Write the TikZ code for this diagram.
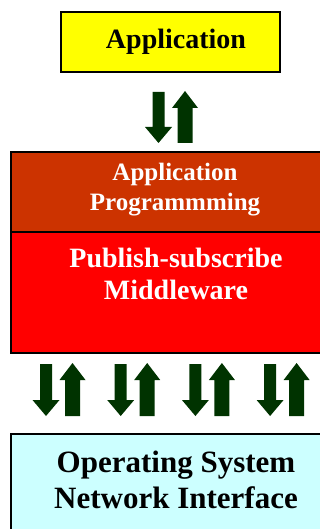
\documentclass[tikz,border=0pt]{standalone}
\usepackage{fontspec}
\setmainfont{Liberation Serif}
\newfontfamily\tnrb{Liberation Serif Bold}
\definecolor{appyellow}{HTML}{FFFF00}
\definecolor{apibrown}{HTML}{CC3300}
\definecolor{mwred}{HTML}{FF0000}
\definecolor{oscyan}{HTML}{CCFFFF}
\definecolor{arrowgreen}{HTML}{003300}
\tikzset{
  layerbox/.style={draw=black, line width=1.3pt, inner sep=0pt, outer sep=0pt},
  layertext/.style={align=center, inner sep=0pt},
}
\newcommand{\updownpair}[3]{% center x of down arrow, top y, bottom y
  \fill[arrowgreen] (#1-6,#2+1) -- (#1+6,#2+1) -- (#1+6,#3-16) -- (#1+13.5,#3-16)
     -- (#1,#3) -- (#1-13.5,#3-16) -- (#1-6,#3-16) -- cycle;
  \fill[arrowgreen] (#1+26.5-7.5,#3) -- (#1+26.5+7.5,#3) -- (#1+26.5+7.5,#2+17)
     -- (#1+26.5+13,#2+17) -- (#1+26.5,#2) -- (#1+26.5-13,#2+17) -- (#1+26.5-7.5,#2+17) -- cycle;
}
\begin{document}
\begin{tikzpicture}[x=1pt,y=-1pt]
\useasboundingbox (0,0) rectangle (320,529);
% Application box
\node[layerbox, fill=appyellow, minimum width=219pt, minimum height=60pt] (app) at (170.5,42) {};
\node[layertext, font=\tnrb\fontsize{28}{32}\selectfont] (apptext) at (176,42) {Application};
% API box
\path[layerbox, fill=apibrown] (11,152) rectangle (323,232);
\node[layertext, text=white, font=\tnrb\fontsize{25}{30}\selectfont] (api) at (175,190) {Application\\Programmming};
% Middleware box
\path[layerbox, fill=mwred] (11,232) rectangle (323,353);
\node[layertext, text=white, font=\tnrb\fontsize{28}{32}\selectfont] (mw) at (176,274) {Publish-subscribe\\Middleware};
% OS box
\path[layerbox, fill=oscyan] (11,434) rectangle (323,540);
\node[layertext, font=\tnrb\fontsize{31}{36}\selectfont] (os) at (176,480) {Operating System\\Network Interface};
% arrows
\updownpair{158.5}{91}{143}
\updownpair{46}{363}{416}
\updownpair{120.7}{363}{416}
\updownpair{195.4}{363}{416}
\updownpair{270.1}{363}{416}
\end{tikzpicture}
\end{document}
